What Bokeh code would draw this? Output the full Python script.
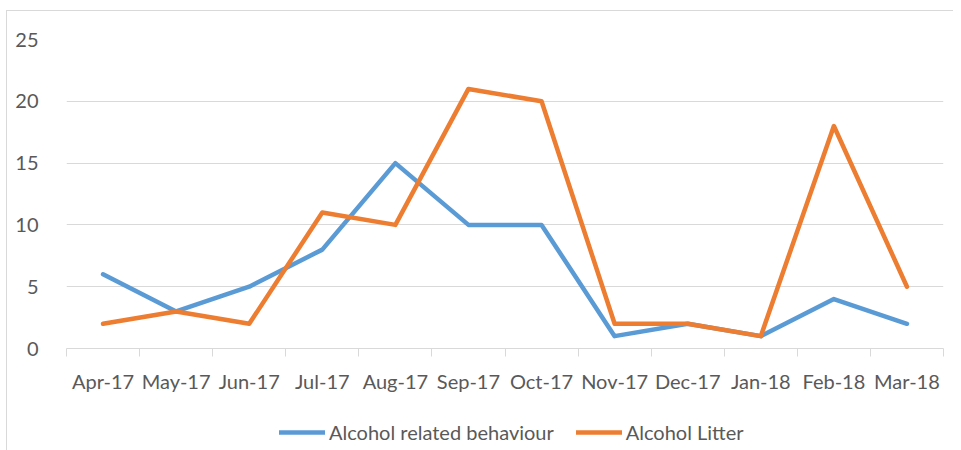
from bokeh.plotting import figure
from bokeh.models import FixedTicker, Legend, LegendItem, Range1d
from bokeh.layouts import column
from bokeh.embed import file_html
from bokeh.resources import INLINE

months = ["Apr-17", "May-17", "Jun-17", "Jul-17", "Aug-17", "Sep-17",
          "Oct-17", "Nov-17", "Dec-17", "Jan-18", "Feb-18", "Mar-18"]
behaviour = [6, 3, 5, 8, 15, 10, 10, 1, 2, 1, 4, 2]
litter = [2, 3, 2, 11, 10, 21, 20, 2, 2, 1, 18, 5]
y_ticks = [0, 5, 10, 15, 20, 25]
series_names = ["Alcohol related behaviour", "Alcohol Litter"]

xs = [i + 0.5 for i in range(len(months))]

FONT = "Lato"
TXT = "#595959"
GRID = "#d9d9d9"
BLUE = "#5B9BD5"
ORANGE = "#ED7D31"

p = figure(width=946, height=384, output_backend="svg", toolbar_location=None,
           x_range=Range1d(0, len(months)), y_range=Range1d(0, 25),
           min_border_left=59, min_border_right=10, min_border_top=28,
           min_border_bottom=45)
p.outline_line_color = None

p.line(xs, behaviour, line_color=BLUE, line_width=4.5, line_join="round", line_cap="round")
p.line(xs, litter, line_color=ORANGE, line_width=4.5, line_join="round", line_cap="round")

# x axis
xa = p.xaxis[0]
xa.ticker = FixedTicker(ticks=xs, minor_ticks=list(range(len(months) + 1)))
xa.major_label_overrides = {x: m for x, m in zip(xs, months)}
xa.major_tick_line_color = None
xa.minor_tick_in = 0
xa.minor_tick_out = 8
xa.minor_tick_line_color = GRID
xa.minor_tick_line_width = 1
xa.axis_line_color = GRID
xa.axis_line_width = 1
xa.major_label_text_font = FONT
xa.major_label_text_font_size = "20px"
xa.major_label_text_color = TXT
xa.major_label_standoff = 12

# y axis
ya = p.yaxis[0]
ya.ticker = FixedTicker(ticks=y_ticks)
ya.axis_line_color = None
ya.major_tick_line_color = None
ya.minor_tick_line_color = None
ya.major_label_text_font = FONT
ya.major_label_text_font_size = "20px"
ya.major_label_text_color = TXT
ya.major_label_standoff = 22

p.xgrid.grid_line_color = None
p.ygrid.ticker = FixedTicker(ticks=y_ticks)
p.ygrid.grid_line_color = GRID
p.ygrid.grid_line_width = 1

# legend strip: same series drawn outside its view, only the legend shows
p2 = figure(width=946, height=55, output_backend="svg", toolbar_location=None,
            x_range=Range1d(100, 101), y_range=Range1d(100, 101),
            x_axis_type=None, y_axis_type=None,
            min_border_left=0, min_border_right=0, min_border_top=0, min_border_bottom=0)
p2.outline_line_color = None
p2.grid.grid_line_color = None
l1 = p2.line(xs, behaviour, line_color=BLUE, line_width=4.5, line_cap="round")
l2 = p2.line(xs, litter, line_color=ORANGE, line_width=4.5, line_cap="round")

legend = Legend(items=[LegendItem(label=series_names[0], renderers=[l1]),
                       LegendItem(label=series_names[1], renderers=[l2])],
                orientation="horizontal", location=(213, 6),
                border_line_color=None, background_fill_alpha=0,
                label_text_font=FONT, label_text_font_size="20px",
                label_text_color=TXT, glyph_width=46, glyph_height=20,
                label_standoff=4, spacing=22, padding=2, margin=0)
p2.add_layout(legend, "center")

layout = column(p, p2, spacing=0)
layout.styles = {"border-left": "1px solid #d9d9d9", "border-top": "1px solid #d9d9d9",
                 "margin-left": "6px", "margin-top": "10px"}

open("out.html", "w").write(file_html(layout, INLINE))
